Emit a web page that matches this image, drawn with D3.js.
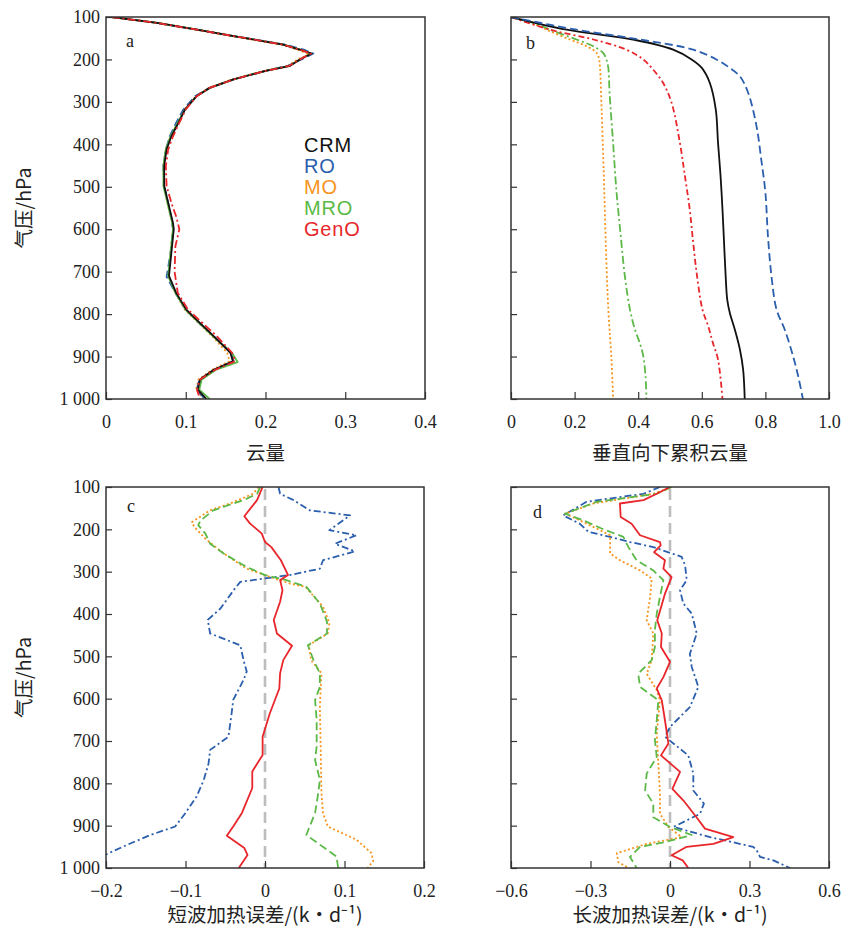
<!DOCTYPE html>
<html>
<head>
<meta charset="utf-8">
<script src="https://cdn.jsdelivr.net/npm/d3@7"></script>
<style>
  body { margin: 0; background: #fff; }
  svg { display: block; }
  .tick-label { font-family: "Liberation Serif", "DejaVu Serif", serif; font-size: 18px; fill: #222; }
  .axis-title { font-family: "Noto Sans CJK SC", sans-serif; font-size: 19.5px; fill: #222; }
  .panel-tag { font-family: "Liberation Serif", serif; font-size: 18px; fill: #222; }
  .legend { font-family: "Liberation Sans", Arial, sans-serif; font-size: 20px; letter-spacing: 0.8px; }
</style>
</head>
<body>
<svg id="chart" width="846" height="929"></svg>
<script>
// ---- shared axis values ----
const pressureTicks = [100, 200, 300, 400, 500, 600, 700, 800, 900, 1000];
const pressureTickLabels = ["100", "200", "300", "400", "500", "600", "700", "800", "900", "1 000"];
const seriesNames = ["CRM", "RO", "MO", "MRO", "GenO"];
const seriesColors = { CRM: "#111111", RO: "#2b5fad", MO: "#f7941d", MRO: "#5cb947", GenO: "#e8262b" };

// ---- panel a: cloud fraction [value, pressure] ----
const cloudCRM = [[0.007,100],[0.064,114],[0.114,130],[0.16,145],[0.222,165],[0.243,177],[0.258,186],[0.243,200],[0.231,215],[0.20,227],[0.16,247],[0.13,267],[0.114,286],[0.099,318],[0.091,349],[0.082,381],[0.076,412],[0.073,451],[0.073,498],[0.078,538],[0.084,585],[0.085,600],[0.082,655],[0.079,710],[0.088,750],[0.101,790],[0.118,821],[0.135,852],[0.156,891],[0.159,911],[0.135,931],[0.118,954],[0.115,978],[0.126,1000]];
const cloudRO = [[0.007,100],[0.064,114],[0.114,130],[0.16,145],[0.225,165],[0.248,177],[0.260,186],[0.245,200],[0.228,215],[0.20,227],[0.16,247],[0.13,267],[0.112,286],[0.097,318],[0.088,349],[0.080,381],[0.075,412],[0.072,451],[0.073,498],[0.078,538],[0.083,585],[0.084,600],[0.081,655],[0.076,712],[0.087,750],[0.100,790],[0.117,821],[0.135,852],[0.157,891],[0.160,911],[0.136,931],[0.117,954],[0.114,978],[0.124,1000]];
const cloudMO = [[0.007,100],[0.063,114],[0.113,130],[0.158,145],[0.220,165],[0.240,177],[0.255,188],[0.240,200],[0.227,217],[0.198,227],[0.158,247],[0.129,267],[0.113,286],[0.098,318],[0.090,349],[0.081,381],[0.075,412],[0.072,451],[0.073,498],[0.077,538],[0.083,585],[0.084,600],[0.081,655],[0.078,710],[0.087,750],[0.099,790],[0.116,821],[0.133,852],[0.152,891],[0.155,911],[0.133,931],[0.116,954],[0.113,978],[0.122,1000]];
const cloudMRO = [[0.007,100],[0.065,114],[0.115,130],[0.16,145],[0.223,165],[0.244,177],[0.257,186],[0.243,200],[0.230,215],[0.20,227],[0.16,247],[0.13,267],[0.114,286],[0.099,318],[0.090,349],[0.081,381],[0.075,412],[0.072,451],[0.072,498],[0.077,538],[0.083,585],[0.084,600],[0.081,655],[0.078,710],[0.087,750],[0.100,790],[0.117,821],[0.134,852],[0.158,891],[0.165,913],[0.138,931],[0.120,954],[0.117,978],[0.130,1000]];
const cloudGenO = [[0.007,100],[0.064,114],[0.114,130],[0.16,145],[0.222,165],[0.243,177],[0.257,186],[0.243,200],[0.230,215],[0.20,227],[0.16,247],[0.13,267],[0.114,286],[0.100,318],[0.092,349],[0.084,381],[0.078,412],[0.075,451],[0.076,498],[0.082,538],[0.088,570],[0.092,600],[0.087,640],[0.086,700],[0.090,750],[0.103,790],[0.121,821],[0.139,852],[0.158,891],[0.162,911],[0.137,931],[0.118,954],[0.114,978],[0.118,1000]];

// ---- panel b: downward accumulated cloud fraction ----
const accCRM = [[0,100],[0.175,130],[0.384,153],[0.51,177],[0.568,200],[0.60,220],[0.625,255],[0.644,318],[0.651,396],[0.659,475],[0.665,553],[0.67,632],[0.675,710],[0.68,766],[0.688,797],[0.704,837],[0.72,884],[0.73,931],[0.735,1000]];
const accRO = [[0,100],[0.206,130],[0.405,153],[0.573,177],[0.646,200],[0.688,220],[0.72,240],[0.746,279],[0.772,357],[0.787,436],[0.80,514],[0.808,616],[0.819,710],[0.835,789],[0.861,837],[0.887,899],[0.903,946],[0.918,1000]];
const accMO = [[0,100],[0.07,116],[0.112,130],[0.185,153],[0.238,169],[0.27,185],[0.277,200],[0.28,220],[0.285,318],[0.292,475],[0.298,632],[0.306,789],[0.316,907],[0.321,1000]];
const accMRO = [[0,100],[0.08,116],[0.123,130],[0.206,153],[0.259,169],[0.29,185],[0.30,200],[0.306,220],[0.31,279],[0.321,396],[0.332,514],[0.342,592],[0.358,710],[0.374,789],[0.39,837],[0.405,868],[0.416,899],[0.423,946],[0.426,1000]];
const accGenO = [[0,100],[0.123,130],[0.259,153],[0.363,177],[0.416,200],[0.447,224],[0.478,255],[0.505,302],[0.531,396],[0.547,475],[0.562,553],[0.573,632],[0.585,710],[0.602,789],[0.62,828],[0.635,868],[0.651,907],[0.665,1000]];

// ---- panel c: shortwave heating error (K/d) ----
const swRO = [[0.017,100],[0.019,116],[0.036,131],[0.056,155],[0.107,167],[0.081,202],[0.115,214],[0.088,234],[0.113,252],[0.073,273],[0.069,293],[0.031,308],[-0.031,324],[-0.038,340],[-0.056,387],[-0.072,414],[-0.069,446],[-0.031,474],[-0.027,509],[-0.023,536],[-0.027,556],[-0.040,603],[-0.042,635],[-0.046,690],[-0.069,721],[-0.071,753],[-0.077,792],[-0.086,831],[-0.100,870],[-0.113,902],[-0.144,922],[-0.173,945],[-0.2,968],[-0.21,976]];
const swMO = [[-0.008,100],[-0.015,116],[-0.044,139],[-0.069,155],[-0.092,183],[-0.089,194],[-0.075,222],[-0.052,257],[-0.023,293],[0.006,312],[0.031,328],[0.051,336],[0.073,383],[0.081,422],[0.079,446],[0.055,474],[0.058,509],[0.071,540],[0.069,619],[0.070,713],[0.071,823],[0.073,870],[0.079,902],[0.115,933],[0.134,965],[0.136,984],[0.129,1000]];
const swMRO = [[-0.006,100],[-0.010,116],[-0.027,131],[-0.065,155],[-0.081,179],[-0.084,190],[-0.075,210],[-0.069,234],[-0.052,257],[-0.023,289],[0,308],[0.027,320],[0.052,336],[0.069,375],[0.078,418],[0.078,446],[0.054,474],[0.061,509],[0.069,540],[0.069,572],[0.063,603],[0.065,650],[0.065,713],[0.063,745],[0.069,792],[0.067,823],[0.063,870],[0.052,922],[0.075,953],[0.090,973],[0.092,1000]];
const swGenO = [[-0.003,100],[-0.010,131],[-0.026,169],[-0.019,186],[-0.004,210],[0,230],[0.008,242],[0.020,273],[0.029,308],[0.019,320],[0.022,344],[0.019,371],[0.011,414],[0.015,446],[0.034,475],[0.023,509],[0.019,540],[0.018,576],[0.006,635],[-0.003,690],[-0.003,733],[-0.016,772],[-0.016,811],[-0.029,870],[-0.040,902],[-0.048,924],[-0.026,953],[-0.022,969],[-0.033,1000]];

// ---- panel d: longwave heating error (K/d) ----
const lwRO = [[-0.038,100],[-0.10,116],[-0.315,135],[-0.403,167],[-0.34,187],[-0.308,206],[-0.226,218],[-0.151,230],[-0.063,242],[0.044,265],[0.057,285],[0.063,320],[0.038,344],[0.05,375],[0.082,399],[0.101,446],[0.075,494],[0.082,525],[0.107,572],[0.075,620],[0.025,651],[0,667],[-0.019,690],[0.069,734],[0.088,777],[0.088,817],[0.128,848],[0.113,872],[0.013,903],[0.151,927],[0.314,950],[0.327,958],[0.34,974],[0.39,982],[0.453,1000]];
const lwMO = [[0.006,100],[-0.063,116],[-0.289,139],[-0.396,163],[-0.34,179],[-0.264,202],[-0.226,214],[-0.226,257],[-0.189,273],[-0.113,297],[-0.069,316],[-0.075,360],[-0.088,415],[-0.063,446],[-0.069,509],[-0.088,541],[-0.05,580],[-0.038,604],[-0.05,683],[-0.044,753],[-0.038,824],[-0.038,872],[-0.006,903],[0.044,927],[-0.088,943],[-0.201,965],[-0.195,986],[-0.157,1000]];
const lwMRO = [[0.006,100],[-0.05,116],[-0.277,135],[-0.396,163],[-0.327,179],[-0.258,198],[-0.176,218],[-0.157,242],[-0.126,273],[-0.063,297],[-0.025,320],[-0.038,360],[-0.05,399],[-0.057,438],[-0.057,478],[-0.069,509],[-0.12,541],[-0.113,572],[-0.044,604],[-0.05,651],[-0.057,698],[-0.05,738],[-0.088,777],[-0.094,817],[-0.063,848],[-0.063,880],[0,903],[0.082,922],[-0.013,938],[-0.113,950],[-0.151,974],[-0.126,1000]];
const lwGenO = [[0,100],[-0.05,116],[-0.10,131],[-0.189,139],[-0.186,171],[-0.145,187],[-0.113,214],[-0.038,230],[-0.035,238],[-0.06,254],[-0.019,273],[-0.025,293],[0.006,313],[-0.019,352],[-0.048,415],[-0.031,446],[-0.034,478],[0,513],[-0.025,549],[-0.05,576],[-0.031,604],[-0.019,651],[-0.006,706],[-0.034,734],[0.038,773],[0.009,813],[0.05,840],[0.10,880],[0.132,907],[0.239,927],[0.164,943],[0.063,950],[0.006,970],[0.048,982],[0.069,1000]];

// ---- x-axis settings per panel ----
const xTicksA = [0, 0.1, 0.2, 0.3, 0.4];
const xTicksB = [0, 0.2, 0.4, 0.6, 0.8, 1.0];
const xTicksC = [-0.2, -0.1, 0, 0.1, 0.2];
const xTicksD = [-0.6, -0.3, 0, 0.3, 0.6];

const svg = d3.select("#chart");

const DOT = "2,2.4", DASH = "8,4", DASHDOT = "8,3,2,3", LONGDASHDOT = "7,3,2,3";

const panels = [
  {
    tag: "a", tagPos: [20, 30], box: [106, 17, 425, 399], domain: [0, 0.4], ticks: xTicksA,
    fmt: d => d === 0 ? "0" : d3.format(".1f")(d), title: "云量", titleGap: 61, yLabels: true, curve: d3.curveLinear,
    series: [
      { name: "MO", data: cloudMO, dash: DOT },
      { name: "RO", data: cloudRO, dash: DASH },
      { name: "MRO", data: cloudMRO, dash: null },
      { name: "CRM", data: cloudCRM, dash: null },
      { name: "GenO", data: cloudGenO, dash: DASHDOT }
    ]
  },
  {
    tag: "b", tagPos: [15, 32], box: [511, 17, 829, 399], domain: [0, 1.0], ticks: xTicksB,
    fmt: d => d === 0 ? "0" : d3.format(".1f")(d), title: "垂直向下累积云量", titleGap: 61, yLabels: false, curve: d3.curveCatmullRom,
    series: [
      { name: "MO", data: accMO, dash: DOT },
      { name: "MRO", data: accMRO, dash: DASHDOT },
      { name: "GenO", data: accGenO, dash: "6,3,2,3" },
      { name: "CRM", data: accCRM, dash: null },
      { name: "RO", data: accRO, dash: DASH }
    ]
  },
  {
    tag: "c", tagPos: [21, 25], box: [106, 487, 424, 868], domain: [-0.2, 0.2], ticks: xTicksC,
    fmt: d => d === 0 ? "0" : d3.format(".1f")(d).replace("-", "\u2212"), title: "短波加热误差/(k・d⁻¹)", titleGap: 54, yLabels: true, curve: d3.curveLinear, zeroLine: true,
    series: [
      { name: "RO", data: swRO, dash: LONGDASHDOT },
      { name: "MO", data: swMO, dash: DOT },
      { name: "MRO", data: swMRO, dash: DASH },
      { name: "GenO", data: swGenO, dash: null }
    ]
  },
  {
    tag: "d", tagPos: [22, 31], box: [511, 487, 829, 868], domain: [-0.6, 0.6], ticks: xTicksD,
    fmt: d => d === 0 ? "0" : d3.format(".1f")(d).replace("-", "\u2212"), title: "长波加热误差/(k・d⁻¹)", titleGap: 54, yLabels: false, curve: d3.curveLinear, zeroLine: true,
    series: [
      { name: "RO", data: lwRO, dash: LONGDASHDOT },
      { name: "MO", data: lwMO, dash: DOT },
      { name: "MRO", data: lwMRO, dash: DASH },
      { name: "GenO", data: lwGenO, dash: null }
    ]
  }
];

panels.forEach(p => {
  const [x0, y0, x1, y1] = p.box;
  const x = d3.scaleLinear().domain(p.domain).range([x0, x1]);
  const y = d3.scaleLinear().domain([100, 1000]).range([y0, y1]);
  const g = svg.append("g");

  const clipId = "clip-" + p.tag;
  svg.append("clipPath").attr("id", clipId)
    .append("rect").attr("x", x0).attr("y", y0).attr("width", x1 - x0).attr("height", y1 - y0);

  // zero reference line
  if (p.zeroLine) {
    g.append("line")
      .attr("x1", x(0)).attr("x2", x(0)).attr("y1", y0 + 2).attr("y2", y1)
      .attr("stroke", "#bdbdbd").attr("stroke-width", 2.6).attr("stroke-dasharray", "11,6");
  }

  // profiles
  const line = d3.line().x(d => x(d[0])).y(d => y(d[1])).curve(p.curve);
  const lines = g.append("g").attr("clip-path", `url(#${clipId})`);
  p.series.forEach(s => {
    lines.append("path")
      .attr("d", line(s.data))
      .attr("fill", "none")
      .attr("stroke", seriesColors[s.name])
      .attr("stroke-width", 1.8)
      .attr("stroke-linejoin", "round")
      .attr("stroke-dasharray", s.dash);
  });

  // bottom axis with inward ticks
  const xAxis = d3.axisBottom(x).tickValues(p.ticks).tickSize(-7).tickPadding(16).tickFormat(p.fmt);
  const gx = g.append("g").attr("transform", `translate(0,${y1})`).call(xAxis);
  gx.select(".domain").remove();
  gx.selectAll(".tick line").attr("stroke", "#333").attr("stroke-width", 1.2);
  gx.selectAll(".tick text").attr("class", "tick-label").attr("font-size", null).attr("font-family", null).attr("fill", null);

  // left axis with inward ticks
  const yAxis = d3.axisLeft(y).tickValues(pressureTicks).tickSize(-6).tickPadding(6)
    .tickFormat((d, k) => p.yLabels ? pressureTickLabels[k] : "");
  const gy = g.append("g").attr("transform", `translate(${x0},0)`).call(yAxis);
  gy.select(".domain").remove();
  gy.selectAll(".tick line").attr("stroke", "#333").attr("stroke-width", 1.2);
  gy.selectAll(".tick text").attr("class", "tick-label").attr("font-size", null).attr("font-family", null).attr("fill", null);

  // frame
  g.append("rect").attr("x", x0).attr("y", y0).attr("width", x1 - x0).attr("height", y1 - y0)
    .attr("fill", "none").attr("stroke", "#333").attr("stroke-width", 1.5);

  // panel tag
  g.append("text").attr("class", "panel-tag")
    .attr("x", x0 + p.tagPos[0]).attr("y", y0 + p.tagPos[1]).text(p.tag);

  // x title
  g.append("text").attr("class", "axis-title")
    .attr("x", (x0 + x1) / 2).attr("y", y1 + p.titleGap)
    .attr("text-anchor", "middle").text(p.title);

  // y title
  if (p.yLabels) {
    g.append("text").attr("class", "axis-title")
      .attr("transform", `translate(31,${(y0 + y1) / 2}) rotate(-90)`)
      .attr("text-anchor", "middle").text("气压/hPa");
  }

  // legend in panel a
  if (p.tag === "a") {
    const leg = g.append("g");
    seriesNames.forEach((n, k) => {
      leg.append("text").attr("class", "legend")
        .attr("x", 304).attr("y", 152 + k * 21)
        .attr("fill", seriesColors[n]).text(n);
    });
  }
});
</script>
</body>
</html>
